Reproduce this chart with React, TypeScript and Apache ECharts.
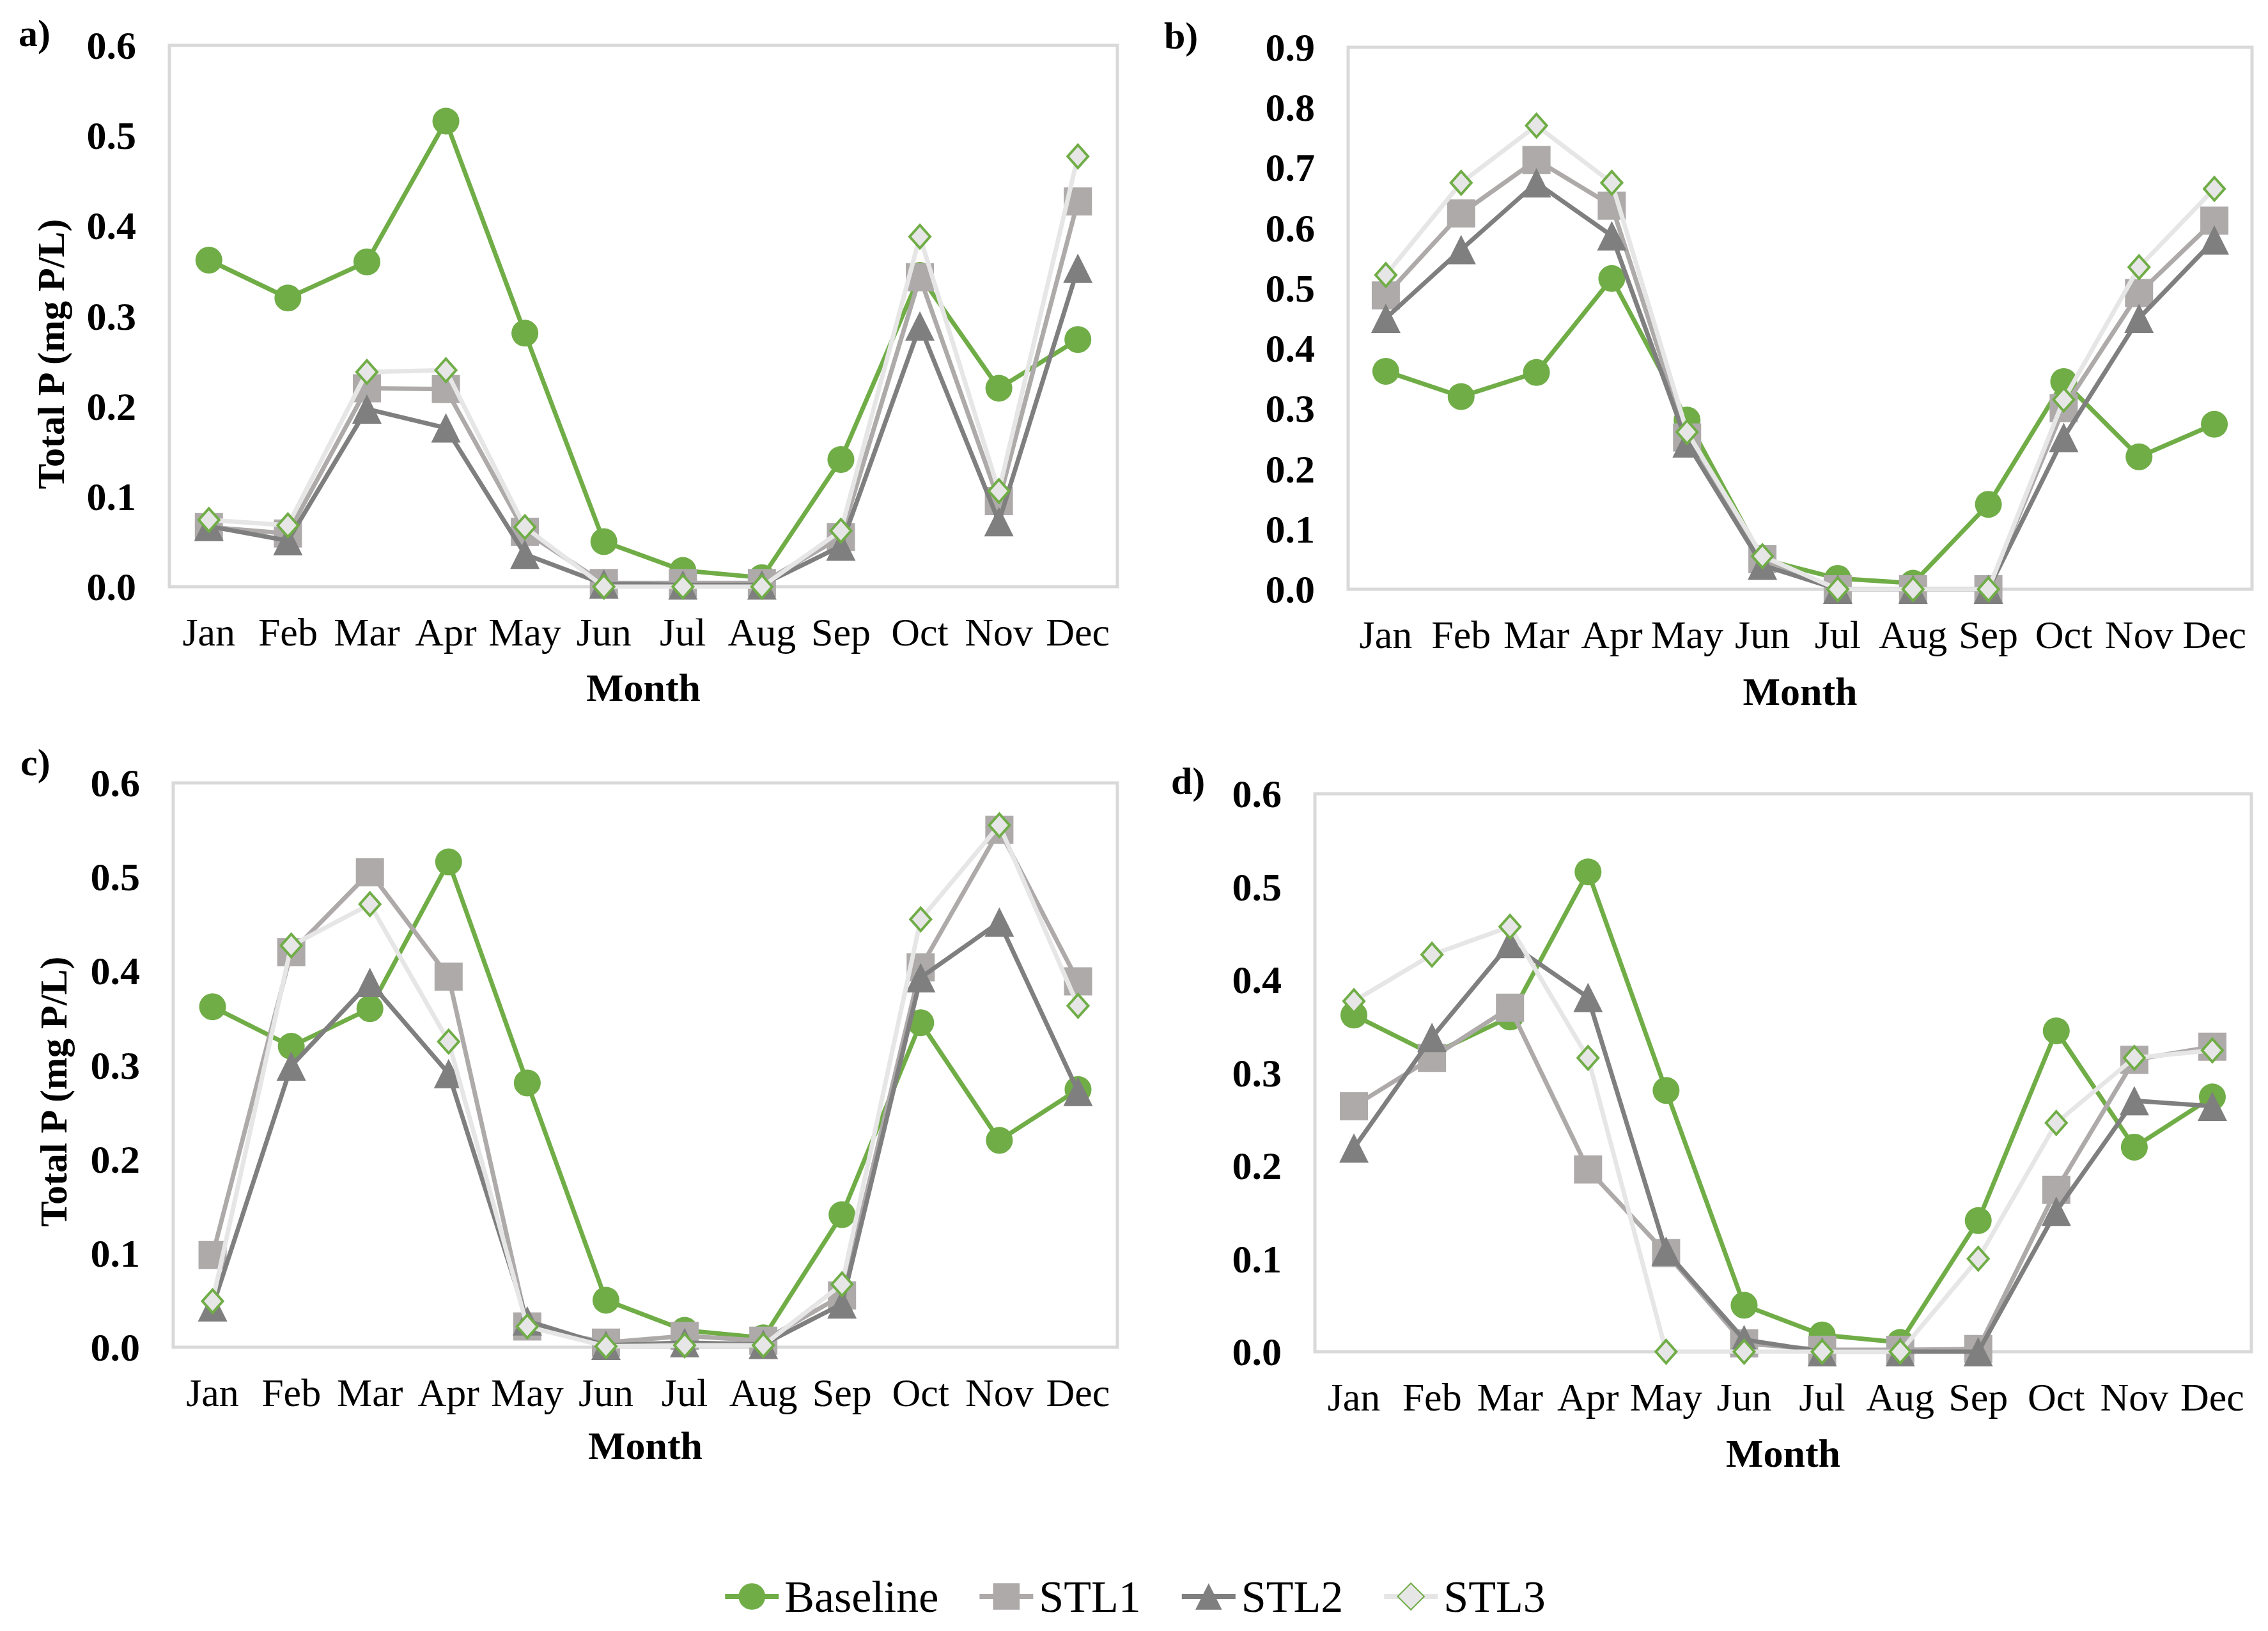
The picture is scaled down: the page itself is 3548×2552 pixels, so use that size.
import React, { useEffect, useRef } from "react";
import * as echarts from "echarts";

const months = ["Jan", "Feb", "Mar", "Apr", "May", "Jun", "Jul", "Aug", "Sep", "Oct", "Nov", "Dec"];
const seriesNames = ["Baseline", "STL1", "STL2", "STL3"];
const panelLetters = ["a)", "b)", "c)", "d)"];
const yMaxes = [0.6, 0.9, 0.6, 0.6];
const yTitle = "Total P (mg P/L)";
const xTitle = "Month";

const baseline = [0.362, 0.32, 0.36, 0.516, 0.281, 0.05, 0.018, 0.01, 0.141, 0.345, 0.22, 0.274];

const stl1A = [0.066, 0.059, 0.22, 0.219, 0.061, 0.004, 0.004, 0.004, 0.055, 0.343, 0.095, 0.427];
const stl2A = [0.067, 0.051, 0.197, 0.176, 0.036, 0.003, 0.002, 0.002, 0.045, 0.289, 0.072, 0.353];
const stl3A = [0.074, 0.068, 0.238, 0.24, 0.066, 0.0, 0.0, 0.0, 0.062, 0.388, 0.106, 0.477];

const stl1B = [0.488, 0.624, 0.713, 0.637, 0.252, 0.05, 0.0, 0.0, 0.0, 0.301, 0.492, 0.612];
const stl2B = [0.45, 0.564, 0.675, 0.587, 0.243, 0.04, 0.0, 0.0, 0.0, 0.252, 0.45, 0.58];
const stl3B = [0.522, 0.675, 0.77, 0.675, 0.261, 0.055, 0.0, 0.0, 0.0, 0.315, 0.535, 0.665];

const stl1C = [0.098, 0.42, 0.505, 0.394, 0.022, 0.005, 0.012, 0.007, 0.055, 0.404, 0.55, 0.389];
const stl2C = [0.043, 0.299, 0.388, 0.291, 0.028, 0.002, 0.005, 0.003, 0.046, 0.393, 0.452, 0.272];
const stl3C = [0.049, 0.427, 0.471, 0.325, 0.022, 0.001, 0.002, 0.002, 0.067, 0.455, 0.555, 0.363];

const stl1D = [0.264, 0.316, 0.37, 0.196, 0.106, 0.009, 0.002, 0.002, 0.003, 0.174, 0.314, 0.328];
const stl2D = [0.219, 0.338, 0.439, 0.381, 0.108, 0.013, 0.0, 0.0, 0.0, 0.151, 0.27, 0.264];
const stl3D = [0.377, 0.427, 0.457, 0.316, 0.0, 0.0, 0.0, 0.0, 0.1, 0.246, 0.316, 0.324];

const panelData = [
  [baseline, stl1A, stl2A, stl3A],
  [baseline, stl1B, stl2B, stl3B],
  [baseline, stl1C, stl2C, stl3C],
  [baseline, stl1D, stl2D, stl3D],
];

const FONT = '"Liberation Serif", "Times New Roman", serif';
const GREEN = "#70AD47";

// layout (pixels)
const panels = [
  { left: 265, top: 71, right: 1748, bottom: 918, letterX: 29, letterY: 52, titleX: 80, titleY: 554, monthY: 1076 },
  { left: 2109, top: 74, right: 3523, bottom: 922, letterX: 1821, letterY: 56, titleX: 0, titleY: 0, monthY: 1082 },
  { left: 271, top: 1225, right: 1748, bottom: 2108, letterX: 32, letterY: 1193, titleX: 84, titleY: 1708, monthY: 2262 },
  { left: 2057, top: 1242, right: 3522, bottom: 2115, letterX: 1832, letterY: 1222, titleX: 0, titleY: 0, monthY: 2274 },
];

const styles = [
  { symbol: "circle", size: 42, line: GREEN, fill: GREEN, border: GREEN, bw: 0 },
  { symbol: "rect", size: 44, line: "#AEAAAA", fill: "#AEAAAA", border: "#AEAAAA", bw: 0 },
  { symbol: "triangle", size: 46, line: "#7F7F7F", fill: "#7F7F7F", border: "#7F7F7F", bw: 0 },
  { symbol: "diamond", size: [32, 36], line: "#E7E6E6", fill: "#E7E6E6", border: GREEN, bw: 4 },
];

export default function App() {
  const ref = useRef<HTMLDivElement>(null);
  useEffect(() => {
    document.body.style.margin = "0";
    if (!ref.current) return;
    const chart = echarts.init(ref.current, undefined, { renderer: "svg" });

    const grids = panels.map((p) => ({
      left: p.left,
      top: p.top,
      width: p.right - p.left,
      height: p.bottom - p.top,
      show: true,
      borderColor: "#D9D9D9",
      borderWidth: 5,
      backgroundColor: "transparent",
      containLabel: false,
    }));

    const xAxes = panels.map((_, i) => ({
      type: "category",
      gridIndex: i,
      data: months,
      boundaryGap: true,
      axisLine: { show: false },
      axisTick: { show: false },
      splitLine: { show: false },
      axisLabel: { interval: 0, fontFamily: FONT, fontSize: 62, color: "#000", margin: 40 },
    }));

    const yAxes = panels.map((_, i) => ({
      type: "value",
      gridIndex: i,
      min: 0,
      max: yMaxes[i],
      interval: 0.1,
      axisLine: { show: false },
      axisTick: { show: false },
      splitLine: { show: false },
      axisLabel: {
        fontFamily: FONT,
        fontWeight: "bold",
        fontSize: 62,
        color: "#000",
        margin: 52,
        formatter: (v: number) => v.toFixed(1),
      },
    }));

    const series: any[] = [];
    panelData.forEach((sets, i) => {
      sets.forEach((vals, k) => {
        const s = styles[k];
        series.push({
          type: "line",
          name: seriesNames[k],
          xAxisIndex: i,
          yAxisIndex: i,
          data: vals,
          symbol: s.symbol,
          symbolSize: s.size,
          showAllSymbol: true,
          lineStyle: { color: s.line, width: 7 },
          itemStyle: { color: s.fill, borderColor: s.border, borderWidth: s.bw },
          emphasis: { disabled: true },
          z: 2 + k,
        });
      });
    });

    const graphics: any[] = [];
    panels.forEach((p, i) => {
      graphics.push({
        type: "text",
        x: p.letterX,
        y: p.letterY,
        style: {
          text: panelLetters[i],
          font: `bold 60px ${FONT}`,
          fill: "#000",
          textAlign: "left",
          textVerticalAlign: "middle",
        },
      });
      graphics.push({
        type: "text",
        x: (p.left + p.right) / 2,
        y: p.monthY,
        style: {
          text: xTitle,
          font: `bold 62px ${FONT}`,
          fill: "#000",
          textAlign: "center",
          textVerticalAlign: "middle",
        },
      });
      if (p.titleX) {
        graphics.push({
          type: "text",
          x: p.titleX,
          y: p.titleY,
          rotation: Math.PI / 2,
          style: {
            text: yTitle,
            font: `bold 60px ${FONT}`,
            fill: "#000",
            textAlign: "center",
            textVerticalAlign: "middle",
          },
        });
      }
    });

    chart.setOption({
      animation: false,
      backgroundColor: "#fff",
      grid: grids,
      xAxis: xAxes,
      yAxis: yAxes,
      series,
      legend: {
        data: seriesNames,
        left: "center",
        top: 2463,
        padding: 0,
        itemWidth: 84,
        itemHeight: 52,
        itemGap: 60,
        lineStyle: { width: 8 },
        textStyle: { fontFamily: FONT, fontSize: 70, color: "#000", padding: [0, 0, 0, 4] },
      },
      graphic: graphics,
    });

    return () => chart.dispose();
  }, []);

  return <div ref={ref} style={{ width: 3548, height: 2552 }} />;
}
